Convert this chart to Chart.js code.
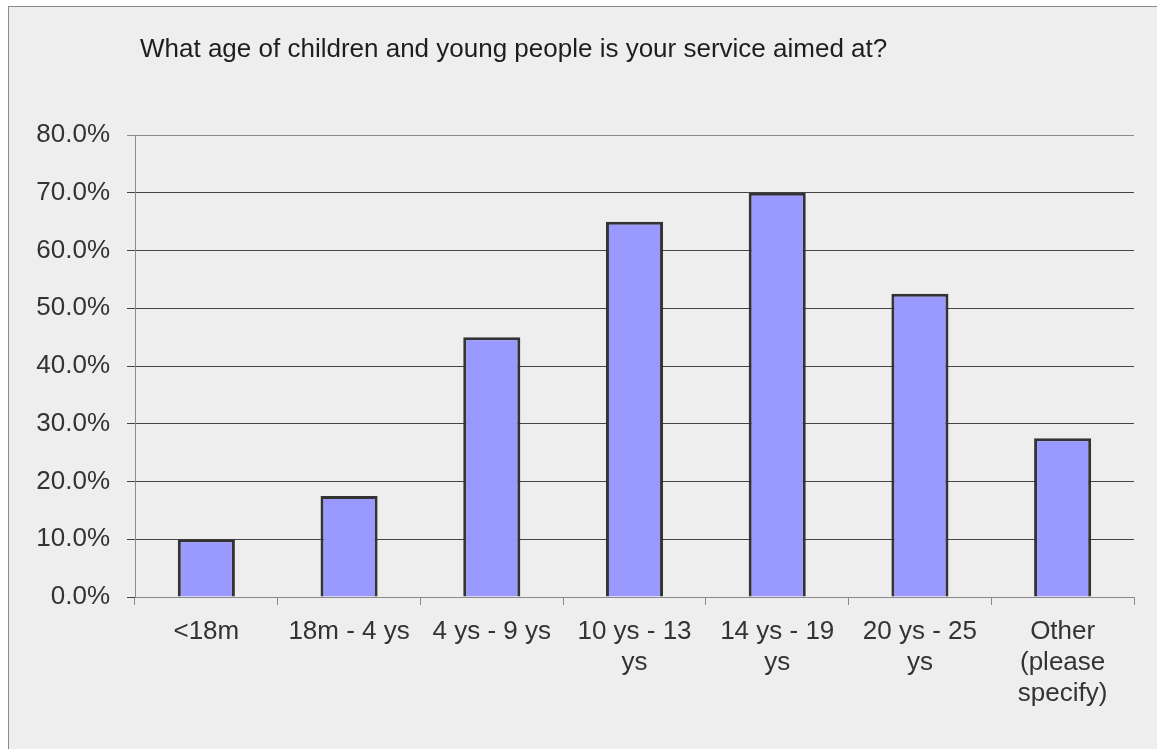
<!DOCTYPE html>
<html>
<head>
<meta charset="utf-8">
<script src="https://cdn.jsdelivr.net/npm/chart.js@4/dist/chart.umd.min.js"></script>
<style>
  body { margin: 0; background: #ffffff; overflow: hidden; }
  .frame {
    position: absolute; left: 8px; top: 6px; width: 1160px; height: 760px;
    border: 1px solid #8a8a8a; background: #eeeeee;
  }
  #chart { position: absolute; left: 0; top: 0; }
</style>
</head>
<body>
<div class="frame"></div>
<canvas id="chart" width="1157" height="749"></canvas>
<script>
// answers to the survey question
const titleText = "What age of children and young people is your service aimed at?";
const categories = [
    ["<18m"],
    ["18m - 4 ys"],
    ["4 ys - 9 ys"],
    ["10 ys - 13", "ys"],
    ["14 ys - 19", "ys"],
    ["20 ys - 25", "ys"],
    ["Other", "(please", "specify)"]
];
const percents = [10.0, 17.5, 45.0, 65.0, 70.0, 52.5, 27.5];
const yMax = 80;
const yStep = 10;

const fontName = "'Liberation Sans', Arial, sans-serif";

// title sits a little right of the plot's left edge, so draw it by hand
const titlePlugin = {
    id: "leftTitle",
    afterDraw: (chart) => {
        let c = chart.ctx;
        c.save();
        c.fillStyle = "#1e1e1e";
        c.font = "26px " + fontName;
        c.textBaseline = "middle";
        c.textAlign = "left";
        c.fillText(titleText, chart.chartArea.left + 5, 50);
        c.restore();
    }
};

const drawChart = () => {
    let ctx = document.getElementById("chart");
    new Chart(ctx, {
        type: "bar",
        data: {
            labels: categories,
            datasets: [{
                data: percents,
                backgroundColor: "#9999ff",
                borderColor: "#333333",
                borderWidth: 3,
                categoryPercentage: 1.0,
                barPercentage: 0.4
            }]
        },
        options: {
            responsive: false,
            animation: false,
            layout: {
                padding: { left: 0, top: 135, right: 23, bottom: 0 }
            },
            plugins: {
                legend: { display: false },
                tooltip: { enabled: false },
                title: { display: false }
            },
            scales: {
                x: {
                    afterFit: (scale) => { scale.height = 152; },
                    grid: {
                        drawOnChartArea: false,
                        drawTicks: true,
                        tickLength: 8,
                        color: "#8a8a8a",
                        offset: true
                    },
                    border: { display: true, color: "#8a8a8a", width: 1 },
                    ticks: {
                        color: "#333333",
                        padding: 11,
                        maxRotation: 0,
                        autoSkip: false,
                        font: { family: fontName, size: 26 }
                    }
                },
                y: {
                    min: 0,
                    max: yMax,
                    afterFit: (scale) => { scale.width = 135; },
                    grid: {
                        drawTicks: true,
                        tickLength: 8,
                        color: (c) => (c.tick && c.tick.value === yMax) ? "#8a8a8a" : "#444444"
                    },
                    border: { display: true, color: "#8a8a8a", width: 1 },
                    ticks: {
                        stepSize: yStep,
                        color: "#333333",
                        padding: 17,
                        font: { family: fontName, size: 26 },
                        callback: (v) => v.toFixed(1) + "%"
                    }
                }
            }
        },
        plugins: [titlePlugin]
    });
};

drawChart();
</script>
</body>
</html>
